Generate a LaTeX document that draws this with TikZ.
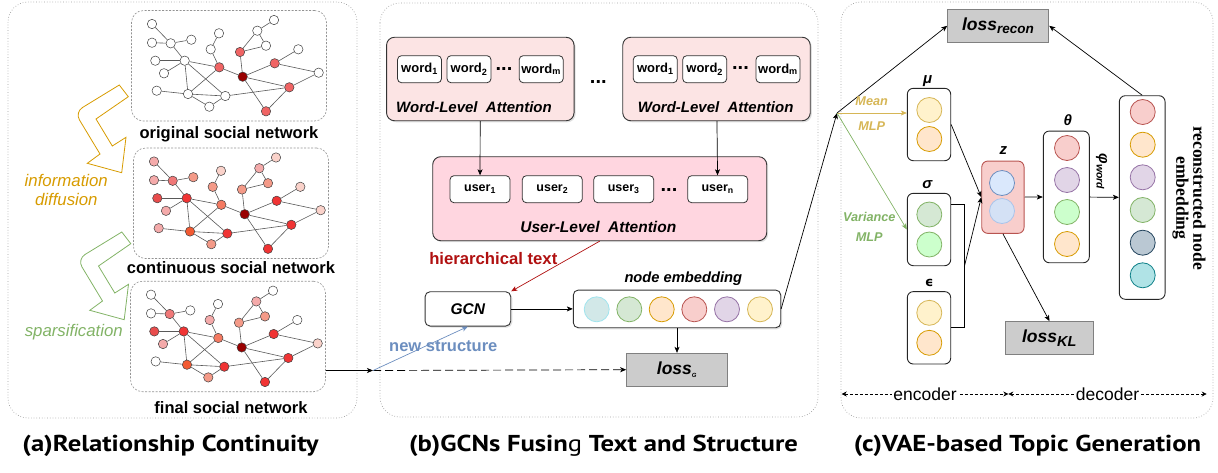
\documentclass[tikz,border=0pt]{standalone}
\usepackage{fontspec}
\setmainfont{Liberation Sans}
\newfontfamily\capfont{PT Sans}
\newfontfamily\serifb{Liberation Serif}
\newfontfamily\symb{DejaVu Sans}
\usepackage{tikz}
\usetikzlibrary{positioning, arrows.meta, shadows}

\definecolor{netred}{HTML}{F06464}
\definecolor{netdark}{HTML}{990000}
\definecolor{heatA}{HTML}{FAD2CA}
\definecolor{heatB}{HTML}{F4AAAA}
\definecolor{heatC}{HTML}{F49A88}
\definecolor{heatD}{HTML}{F07878}
\definecolor{heatE}{HTML}{F25A32}
\definecolor{heatF}{HTML}{F03434}
\definecolor{heatG}{HTML}{E84C4C}
\definecolor{heatH}{HTML}{F47A62}
\definecolor{diffcol}{HTML}{D79B00}
\definecolor{sparcol}{HTML}{82B366}
\definecolor{wordpink}{HTML}{FCE4E4}
\definecolor{userpink}{HTML}{FFD6E0}
\definecolor{lossgray}{HTML}{CCCCCC}
\definecolor{hiercol}{HTML}{B01010}
\definecolor{structcol}{HTML}{6C8EBF}
\definecolor{meancol}{HTML}{D6B656}
\definecolor{cyanfill}{HTML}{D2E8E8}\definecolor{cyanline}{HTML}{A0E4EE}
\definecolor{greenfill}{HTML}{D5E8D4}\definecolor{greenline}{HTML}{82B366}
\definecolor{limefill}{HTML}{CCFFCC}\definecolor{limeline}{HTML}{82B366}
\definecolor{orangefill}{HTML}{FFE6CC}\definecolor{orangeline}{HTML}{D79B00}
\definecolor{redfill}{HTML}{F8CECC}\definecolor{redline}{HTML}{B85450}
\definecolor{purplefill}{HTML}{E1D5E7}\definecolor{purpleline}{HTML}{9673A6}
\definecolor{yellowfill}{HTML}{FFF2CC}\definecolor{yellowline}{HTML}{D6B656}
\definecolor{bluefill}{HTML}{DAE8FC}\definecolor{blueline}{HTML}{6C8EBF}
\definecolor{paleblfill}{HTML}{D4E1F5}\definecolor{paleblline}{HTML}{A9C4EB}
\definecolor{slatefill}{HTML}{BAC8D3}\definecolor{slateline}{HTML}{23445D}
\definecolor{tealfill}{HTML}{B0E3E6}\definecolor{tealline}{HTML}{0E8088}

% same graph in the three social networks
\def\netpos{1/24/16, 2/42.7/35.3, 3/24/34.7, 4/63.3/31.7, 5/27.3/52.7, 6/56.7/52.7,
  7/36/65.3, 8/91/25.3, 9/82.7/41.3, 10/91.3/59.3, 11/28.7/82.7, 12/60/86,
  13/81.3/98.7, 14/97.3/88, 15/146/12, 16/129.3/22.7, 17/138/37.7, 18/112/44,
  19/114.7/68.7, 20/146.7/55.3, 21/170.3/41.3, 22/190.7/64.7, 23/161.3/79.3, 24/138/103.3}
\def\netedges{1/2, 3/2, 2/4, 2/6, 5/6, 7/6, 6/10, 6/12, 6/14, 8/9, 9/10, 10/12, 10/19,
  11/12, 12/13, 13/14, 12/14, 14/23, 19/18, 18/16, 18/17, 16/15, 16/17, 19/20,
  20/21, 20/22, 22/23, 19/23, 19/24, 23/24}

\begin{document}
\begin{tikzpicture}[x=1pt, y=-1pt,
  panel/.style = {draw=gray!75, dotted, line width=0.7pt, rounded corners=20pt},
  netbox/.style = {draw=gray!85, dash pattern=on 2pt off 1.5pt, line width=0.6pt, rounded corners=12pt, minimum width=195pt, minimum height=110.5pt},
  person/.style = {circle, draw=black!75, line width=0.5pt, minimum size=9.4pt, inner sep=0pt},
  tie/.style = {black!65, line width=0.6pt},
  netlab/.style = {font=\fontsize{16.5}{18}\selectfont\bfseries},
  diff/.style = {line width=0.8pt, line join=miter},
  grp/.style = {draw=black!80, line width=0.9pt, rounded corners=8pt, drop shadow={shadow xshift=1.5pt, shadow yshift=-1.5pt, opacity=.25}},
  item/.style = {draw=black!80, fill=white, line width=0.8pt, rounded corners=4pt, inner sep=0pt, minimum height=27pt, font=\fontsize{13}{15}\selectfont\bfseries},
  lab/.style = {font=\fontsize{15}{17}\selectfont\bfseries\itshape},
  more/.style = {font=\fontsize{20}{22}\selectfont\bfseries, inner sep=0pt},
  lossbox/.style = {draw=gray, fill=lossgray, line width=1pt, inner sep=0pt},
  col/.style = {draw=black!85, fill=white, line width=0.9pt, rounded corners=6pt, minimum width=43.4pt, inner sep=0pt},
  dot/.style = {circle, inner sep=0pt, minimum size=25pt, line width=0.8pt, fill=#1fill, draw=#1line},
  seta/.style = {-{Stealth[length=6pt, width=5pt, inset=1.5pt]}, line width=0.7pt},
  span/.style = {{Stealth[length=5pt, width=5pt]}-{Stealth[length=5pt, width=5pt]}, dash pattern=on 3pt off 2pt, line width=0.7pt},
  caption/.style = {font=\capfont\fontsize{23}{25}\selectfont\bfseries, xscale=1.16},
]
\useasboundingbox (0,0) rectangle (1218,472);

% panels
\draw[panel] (8,2) rectangle (357,418);
\draw[panel] (380,3) rectangle (818,417);
\draw[panel] (841,2) rectangle (1213,418);

% (a) social networks
\begin{scope}[shift={(128,8)}]
\node[netbox] (box1) at (101,57.75) {};
\foreach \i/\x/\y in \netpos \coordinate (o-\i) at (\x,\y);
\foreach \c [count=\i] in {white,white,white,white,white,white,white,white,white,netred,white,white,
  white,white,white,white,white,netred,netdark,netred,white,white,netred,netred}
  \node[person, fill=\c] (o\i) at (o-\i) {};
\foreach \a/\b in \netedges \draw[tie] (o\a) -- (o\b);
\end{scope}
\begin{scope}[shift={(130,145.5)}]
\node[netbox] (box2) at (101,57.75) {};
\foreach \i/\x/\y in \netpos \coordinate (c-\i) at (\x,\y);
\foreach \c [count=\i] in {heatB,heatD,heatB,heatC,heatG,heatF,heatB,heatA,heatC,heatH,heatB,heatE,
  heatC,heatF,heatA,heatB,heatC,heatC,netdark,heatF,heatA,heatA,heatF,heatF}
  \node[person, fill=\c] (c\i) at (c-\i) {};
\foreach \a/\b in \netedges \draw[tie] (c\a) -- (c\b);
\end{scope}
\begin{scope}[shift={(127,278.7)}]
\node[netbox] (box3) at (101,57.75) {};
\foreach \i/\x/\y in \netpos \coordinate (f-\i) at (\x,\y);
\foreach \c [count=\i] in {white,heatD,white,white,heatG,heatF,heatB,white,heatB,heatH,white,heatE,
  heatC,heatF,white,heatB,heatC,heatC,netdark,heatF,white,heatA,heatF,heatF}
  \node[person, fill=\c] (f\i) at (f-\i) {};
\foreach \a/\b in \netedges \draw[tie] (f\a) -- (f\b);
\end{scope}
\node[netlab] (lab1) at (229,134.7) {original social network};
\node[netlab] (lab2) at (231,267.7) {continuous social network};
\node[netlab] (lab3) at (231,407.3) {final social network};

% bent arrows between the networks
\draw[diff, diffcol] (119.3,85) [rounded corners=9pt] -- (74.8,112.2) [sharp corners] -- (100,154) -- (87.3,163.3)
  -- (121.7,172.7) -- (126,137.3) -- (112.3,146) -- (96,119) -- (128.3,96.7) -- cycle;
\begin{scope}[shift={(2.5,147)}]
\draw[diff, sparcol] (119.3,85) [rounded corners=9pt] -- (74.8,112.2) [sharp corners] -- (100,154) -- (87.3,163.3)
  -- (121.7,172.7) -- (126,137.3) -- (112.3,146) -- (96,119) -- (128.3,96.7) -- cycle;
\end{scope}
\node[font=\fontsize{16.8}{19.3}\selectfont\itshape, text=diffcol, align=center] (difflab) at (66.3,189.7) {information\\diffusion};
\node[font=\fontsize{16.8}{19}\selectfont\itshape, text=sparcol] (sparlab) at (73.8,331.7) {sparsification};

% (b) text and structure
\node[grp, fill=wordpink, minimum width=187.5pt, minimum height=83.5pt] (wg1) at (480.3,79) {};
\node[grp, fill=wordpink, minimum width=187.5pt, minimum height=83.5pt] (wg2) at (716.5,79) {};
\node[item, minimum width=44pt] (w11) at (419.5,69.2) {word\textsubscript{1}};
\node[item, minimum width=44pt] (w12) at (469,69.2) {word\textsubscript{2}};
\node[more] (wd1) at (504,69.5) {...};
\node[item, minimum width=44pt] (w1m) at (541.2,69.2) {word\textsubscript{m}};
\node[item, minimum width=44pt] (w21) at (655.3,69.2) {word\textsubscript{1}};
\node[item, minimum width=44pt] (w22) at (704.7,69.2) {word\textsubscript{2}};
\node[more] (wd2) at (740.5,68.5) {...};
\node[item, minimum width=44pt] (w2m) at (778,69.2) {word\textsubscript{m}};
\node[lab] (wl1) at (474,107.3) {Word-Level~ Attention};
\node[lab] (wl2) at (715.7,107.3) {Word-Level~ Attention};
\node[more] (gd) at (598.3,82) {...};

\node[grp, fill=userpink, minimum width=334pt, minimum height=84pt] (ug) at (599.7,198.7) {};
\node[item, minimum width=60pt, font=\fontsize{12.5}{14}\selectfont\bfseries] (u1) at (480,189.2) {user\textsubscript{1}};
\node[item, minimum width=60pt, font=\fontsize{12.5}{14}\selectfont\bfseries] (u2) at (552.3,189.2) {user\textsubscript{2}};
\node[item, minimum width=60pt, font=\fontsize{12.5}{14}\selectfont\bfseries] (u3) at (623.7,189.2) {user\textsubscript{3}};
\node[more] (ud) at (669,190.5) {...};
\node[item, minimum width=60pt, font=\fontsize{12.5}{14}\selectfont\bfseries] (un) at (717.7,189.2) {user\textsubscript{n}};
\node[lab, font=\fontsize{15.5}{17}\selectfont\bfseries\itshape] (ul) at (598.3,227.3) {User-Level~ Attention};
\draw[seta] (wg1) -- (u1);
\draw[seta] (wg2) -- (un);

\node[grp, fill=white, rounded corners=5pt, minimum width=85.7pt, minimum height=34.3pt, font=\fontsize{15.5}{17}\selectfont\bfseries\itshape] (gcn) at (467.9,308.9) {GCN};
\node[grp, fill=white, rounded corners=5pt, minimum width=207.4pt, minimum height=37.7pt] (emb) at (677,308.9) {};
\node[dot=cyan] (e1) at (596.7,309.3) {};
\node[dot=green] (e2) at (629.3,309.3) {};
\node[dot=orange] (e3) at (661.7,309.3) {};
\node[dot=red] (e4) at (694.3,309.3) {};
\node[dot=purple] (e5) at (727,309.3) {};
\node[dot=yellow] (e6) at (760,309.3) {};
\node[lab, font=\fontsize{14.7}{16}\selectfont\bfseries\itshape] (embl) at (683.3,278.3) {node embedding};
\node[lossbox, minimum width=100.6pt, minimum height=32.7pt] (lossG) at (677,369.7) {\fontsize{17.5}{19}\selectfont\bfseries\itshape loss\textsubscript{\fontsize{6}{7}\selectfont G}};

\draw[seta, hiercol] (ug.south) -- (gcn.north east);
\node[font=\fontsize{16.7}{18}\selectfont\bfseries, text=hiercol] (hier) at (493.3,258.3) {hierarchical text};
\draw[seta] (gcn) -- (emb);
\draw[seta] (emb) -- (lossG);

\coordinate (junc) at (373,370.5);
\draw[seta] (box3.east |- junc) -- (junc);
\draw[seta, dash pattern=on 8pt off 4pt] (junc) -- (lossG.west);
\draw[seta, structcol] (junc) -- (gcn.south);
\node[font=\fontsize{16.5}{18}\selectfont\bfseries, text=structcol] (newst) at (443.3,345.7) {new structure};

% (c) VAE
\coordinate (split) at (837,113);
\draw[seta] (emb.east) -- (split);
\node[lossbox, minimum width=101pt, minimum height=33pt] (lossR) at (998.2,25.8) {\fontsize{17.5}{19}\selectfont\bfseries\itshape loss\textsubscript{\fontsize{13.5}{15}\selectfont recon}};
\draw[seta] (split) -- (lossR.west);

\node[col, minimum height=72.4pt] (mu) at (929,124.5) {};
\node[dot=yellow] (mu1) at (929.3,110) {};
\node[dot=orange] (mu2) at (929.3,139) {};
\node[col, minimum height=72.4pt] (sig) at (929,229.5) {};
\node[dot=green] (sig1) at (929.3,214.5) {};
\node[dot=lime] (sig2) at (929.3,244.5) {};
\node[col, minimum height=72.4pt] (eps) at (929,327.8) {};
\node[dot=yellow] (eps1) at (929.3,312.8) {};
\node[dot=orange] (eps2) at (929.3,342.8) {};
\node[lab] (mul) at (927.7,81) {μ};
\node[lab] (sigl) at (927.3,184.3) {σ};
\node[font=\symb\bfseries\fontsize{13}{15}\selectfont] (epsl) at (929.3,282.7) {ϵ};

\draw[seta, meancol] (split) -- (split -| mu.west);
\draw[seta, sparcol] (split) -- (sig.west);
\node[font=\fontsize{12.7}{14}\selectfont\bfseries\itshape, text=meancol] (meanl) at (871.7,100.7) {Mean};
\node[font=\fontsize{12.7}{14}\selectfont\bfseries\itshape, text=meancol] (mlp1) at (871.7,126) {MLP};
\node[font=\fontsize{12.7}{14}\selectfont\bfseries\itshape, text=sparcol] (varl) at (869.3,216.7) {Variance};
\node[font=\fontsize{12.7}{14}\selectfont\bfseries\itshape, text=sparcol] (mlp2) at (869.3,236.7) {MLP};

\node[col, fill=redfill, draw=redline, minimum width=42.3pt, minimum height=72.3pt] (z) at (1002.9,197.2) {};
\node[dot=blue] (z1) at (1002,183) {};
\node[dot=palebl] (z2) at (1002,211) {};
\node[lab] (zl) at (1003.3,150.7) {z};
\draw[seta] (mu.east) -- (z.west);
\draw[line width=0.7pt] ([yshift=25.5pt]sig.east) -- ++(13.6,0) |- (eps.east);
\coordinate (merge) at (964.3,266.7);
\draw[seta] (merge) -- (z.west);

\node[lossbox, minimum width=87.6pt, minimum height=33.3pt] (lossKL) at (1049.5,338.3) {\fontsize{17.5}{19}\selectfont\bfseries\itshape loss\textsubscript{\fontsize{14.5}{16}\selectfont KL}};
\draw[seta] (z.south) -- (lossKL.north);

\node[col, minimum width=46pt, minimum height=131.7pt] (theta) at (1066.3,196.9) {};
\node[dot=red] (t1) at (1067,148) {};
\node[dot=purple] (t2) at (1067,180) {};
\node[dot=lime] (t3) at (1067,212) {};
\node[dot=orange] (t4) at (1067,244) {};
\node[lab] (thl) at (1067.7,120) {θ};
\draw[seta] (z) -- (theta);

\node[col, minimum width=45.7pt, minimum height=203.6pt] (rec) at (1142.2,197.5) {};
\node[dot=red] (r1) at (1142.7,112) {};
\node[dot=orange] (r2) at (1142.7,144.7) {};
\node[dot=purple] (r3) at (1142.7,177.3) {};
\node[dot=green] (r4) at (1142.7,210) {};
\node[dot=slate] (r5) at (1142.7,242.7) {};
\node[dot=teal] (r6) at (1142.7,275.3) {};
\draw[seta] (theta) -- (rec);
\node[lab, rotate=-90] (phil) at (1101.7,171.7) {φ\textsubscript{word}};
\draw[seta] (rec.north) -- (lossR.east);
\node[font=\serifb\bfseries\fontsize{17.6}{17}\selectfont, rotate=-90, align=center] (recl) at (1189,198) {reconstructed node\\embedding};

\coordinate (encL) at (841.7,394);
\coordinate (encR) at (1008.3,394);
\coordinate (decR) at (1206.7,394);
\draw[span] (encL) -- (encR) node[midway, fill=white, inner sep=1pt, font=\fontsize{17.5}{19}\selectfont] (encl) {encoder};
\draw[span] (encR) -- (decR) node[midway, fill=white, inner sep=1pt, font=\fontsize{17.5}{19}\selectfont] (decl) {decoder};

% captions
\node[caption] (capa) at (170.5,446) {(a)Relationship Continuity};
\node[caption] (capb) at (603.5,446) {(b)GCNs Fusin{\mdseries g} Text and Structure};
\node[caption] (capc) at (1027.5,446) {(c)VAE-based Topic Generation};
\end{tikzpicture}
\end{document}
